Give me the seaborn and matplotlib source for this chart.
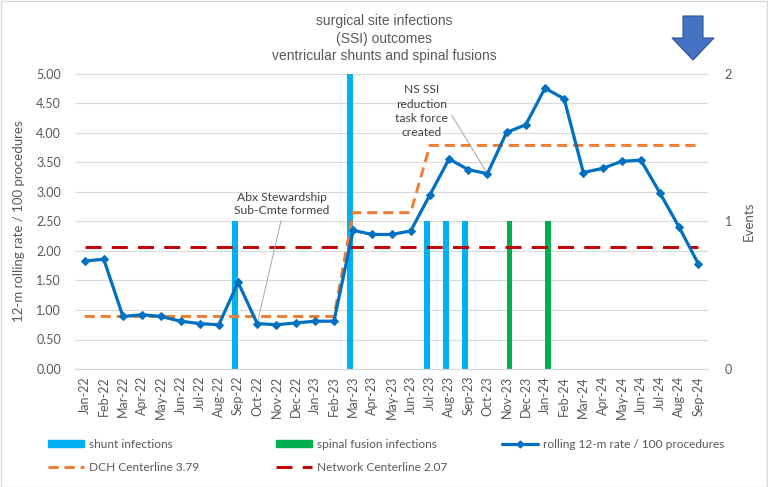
import numpy as np
import pandas as pd
import seaborn as sns
import matplotlib.pyplot as plt
from matplotlib.patches import Patch, Polygon, Rectangle
from matplotlib.lines import Line2D
from matplotlib.ticker import MultipleLocator, FixedLocator

months = ["Jan-22", "Feb-22", "Mar-22", "Apr-22", "May-22", "Jun-22", "Jul-22", "Aug-22",
          "Sep-22", "Oct-22", "Nov-22", "Dec-22", "Jan-23", "Feb-23", "Mar-23", "Apr-23",
          "May-23", "Jun-23", "Jul-23", "Aug-23", "Sep-23", "Oct-23", "Nov-23", "Dec-23",
          "Jan-24", "Feb-24", "Mar-24", "Apr-24", "May-24", "Jun-24", "Jul-24", "Aug-24",
          "Sep-24"]

# rolling 12-month rate / 100 procedures
rolling = [1.83, 1.86, 0.89, 0.92, 0.89, 0.81, 0.77, 0.75, 1.47, 0.77, 0.75, 0.78, 0.81,
           0.81, 2.35, 2.28, 2.28, 2.34, 2.95, 3.56, 3.38, 3.31, 4.01, 4.14, 4.76, 4.58,
           3.33, 3.40, 3.52, 3.54, 2.98, 2.40, 1.78]

# DCH centerline (steps)
dch = [0.89] * 14 + [2.65] * 4 + [3.79] * 15
network = [2.07] * 33

# events (secondary axis)
shunt = [0, 0, 0, 0, 0, 0, 0, 0, 1, 0, 0, 0, 0, 0, 2, 0, 0, 0, 1, 1, 1, 0, 0, 0,
         0, 0, 0, 0, 0, 0, 0, 0, 0]
spinal = [0, 0, 0, 0, 0, 0, 0, 0, 0, 0, 0, 0, 0, 0, 0, 0, 0, 0, 0, 0, 0, 0, 1, 0,
          1, 0, 0, 0, 0, 0, 0, 0, 0]

c_shunt = "#00B0F0"
c_spinal = "#00B050"
c_roll = "#0070C0"
c_dch = "#ED7D31"
c_net = "#C00000"
gray = "#595959"
dash_dch = (0, (3.5, 2))
dash_net = (0, (5.5, 3.5))

sns.set_style("white")
plt.rcParams['font.family'] = ['Lato', 'DejaVu Sans']

fig = plt.figure(figsize=(7.68, 4.87), dpi=100)
ax = fig.add_axes([75 / 768, 1 - 369 / 487, 633 / 768, 295 / 487])
ax2 = ax.twinx()

# bars on the events axis
ev = pd.DataFrame({"month": months * 2,
                   "kind": ["shunt infections"] * 33 + ["spinal fusion infections"] * 33,
                   "events": shunt + spinal})
sns.barplot(data=ev, x="month", y="events", hue="kind", order=months,
            hue_order=["shunt infections", "spinal fusion infections"],
            palette=[c_shunt, c_spinal], width=0.6, ax=ax2, legend=False,
            saturation=1, errorbar=None, linewidth=0)
ax2.set_ylim(0, 2)
ax2.set_yticks([0, 1, 2])
ax2.yaxis.set_minor_locator(MultipleLocator(0.2))
ax2.grid(which="both", axis="y", color="#D9D9D9", lw=0.8)
ax2.set_axisbelow(True)
ax2.tick_params(axis="y", which="both", length=0, labelsize=9, labelcolor=gray, pad=12)
ax2.set_ylabel("Events", color=gray, fontsize=9.5, labelpad=8)

# lines on the rate axis
x = np.arange(len(months))
ax.set_zorder(ax2.get_zorder() + 1)
ax.patch.set_visible(False)
sns.lineplot(x=x, y=dch, ax=ax, color=c_dch, lw=2.1, linestyle=dash_dch)
sns.lineplot(x=x, y=network, ax=ax, color=c_net, lw=2.1, linestyle=dash_net)
sns.lineplot(x=x, y=rolling, ax=ax, color=c_roll, lw=2.3, marker="D", markersize=4,
             markeredgecolor=c_roll)

ax.set_ylim(0, 5)
ax.set_xlim(-0.5, len(months) - 0.5)
ax.set_yticks(np.arange(0, 5.01, 0.5))
ax.set_yticklabels([f"{v:.2f}" for v in np.arange(0, 5.01, 0.5)])
ax.xaxis.set_major_locator(FixedLocator(x))
ax.set_xticklabels(months, rotation=90)
ax.xaxis.set_minor_locator(FixedLocator(np.arange(-0.5, len(months), 1)))
ax.tick_params(axis="x", which="major", length=0, labelsize=9, labelcolor=gray, pad=5)
ax.tick_params(axis="x", which="minor", length=5, color="#BFBFBF", width=0.8)
ax.tick_params(axis="y", length=0, labelsize=9, labelcolor=gray, pad=10)
ax.set_ylabel("12-m rolling rate / 100 procedures", color=gray, fontsize=9.5, labelpad=8)
ax.set_xlabel("")
ax.grid(False)
for a in (ax, ax2):
    for s in ["top", "left", "right"]:
        a.spines[s].set_visible(False)
    a.spines["bottom"].set_color("#D9D9D9")

# annotations
ax.annotate("Abx Stewardship\nSub-Cmte formed", xy=(9, 0.77), xytext=(10.3, 2.8),
            ha="center", va="center", fontsize=8.7, color="#404040", linespacing=1.25,
            arrowprops=dict(arrowstyle="-", color="#A6A6A6", lw=0.7, shrinkA=1, shrinkB=2,
                            relpos=(0.5, 0)))
ax.annotate("NS SSI\nreduction\ntask force\ncreated", xy=(21, 3.31), xytext=(17.55, 4.37),
            ha="center", va="center", fontsize=8.7, color="#404040", linespacing=1.35,
            arrowprops=dict(arrowstyle="-", color="#A6A6A6", lw=0.7, shrinkA=1, shrinkB=2,
                            relpos=(1.0, 0.55)))

# title
fig.text(384 / 768, 1 - 38.5 / 487, "surgical site infections\n(SSI) outcomes\nventricular shunts and spinal fusions",
         ha="center", va="center", fontsize=10, color=gray, linespacing=1.36,
         family=['Liberation Sans', 'DejaVu Sans'])

# down arrow in the corner
arrow = Polygon([(683, 16), (703, 16), (703, 38), (714, 38), (693, 60), (672, 38), (683, 38)],
                closed=True, facecolor="#4472C4", edgecolor="#2F528F", lw=0.8,
                transform=None)
arrow.set_xy([(px, 487 - py) for px, py in arrow.get_xy()])
fig.patches.append(arrow)

# legend, one block per column
cols = [
    (48, [Patch(color=c_shunt, label="shunt infections"),
          Line2D([], [], color=c_dch, lw=2.1, linestyle=dash_dch, label="DCH Centerline 3.79")]),
    (276, [Patch(color=c_spinal, label="spinal fusion infections"),
           Line2D([], [], color=c_net, lw=2.1, linestyle=dash_net, label="Network Centerline 2.07")]),
    (502, [Line2D([], [], color=c_roll, lw=2.3, marker="D", markersize=3.5,
                  label="rolling 12-m rate / 100 procedures")]),
]
for x0, hs in cols:
    fig.legend(handles=hs, loc="upper left", bbox_to_anchor=(x0 / 768, 1 - 439 / 487),
               frameon=False, prop={"size": 8.6}, labelcolor=gray,
               handlelength=3.0, handleheight=0.55, handletextpad=0.4,
               labelspacing=1.0, borderaxespad=0, borderpad=0)

fig.patches.append(Rectangle((0.5 / 768, 0.5 / 487), 1 - 1.5 / 768, 1 - 1.5 / 487,
                             transform=fig.transFigure, fill=False, edgecolor="#D9D9D9", lw=1))

fig.savefig("out.png", dpi=100)
